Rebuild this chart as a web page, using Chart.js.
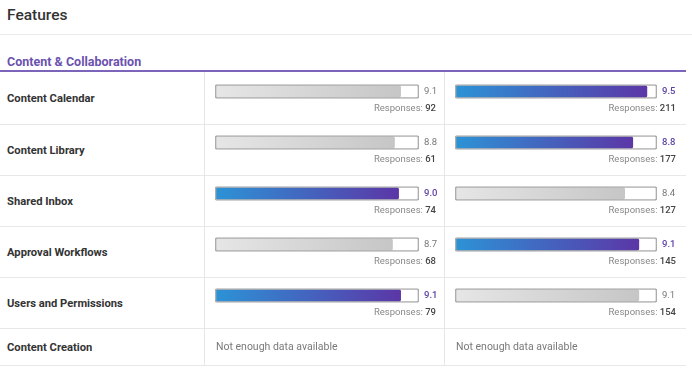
<!DOCTYPE html>
<html>
<head>
<meta charset="utf-8">
<script src="https://cdn.jsdelivr.net/npm/chart.js@4/dist/chart.umd.min.js"></script>
<style>
  body { margin: 0; background: #fff; font-family: Roboto, "Noto Sans", sans-serif; }
  #page { position: relative; width: 692px; height: 376px; overflow: hidden; }
  .abs { position: absolute; }
  #title { left: 7px; top: 6px; font-size: 15.5px; font-weight: 500; color: #333; }
  #section { left: 7px; top: 54px; font-size: 12.5px; font-weight: 700; color: #6b52ae; }
  .hline { left: 0; width: 686px; height: 1px; background: #e8e8e8; }
  .vline { width: 1px; top: 72px; height: 293px; background: #e6e6e6; }
  .rowlabel { left: 7px; font-size: 11.2px; font-weight: 700; color: #333; transform: translateY(-50%); white-space: nowrap; }
  canvas { position: absolute; }
</style>
</head>
<body>
<div id="page">
  <div id="title" class="abs">Features</div>
  <div class="abs hline" style="top:34px;width:692px;background:#ececec"></div>
  <div id="section" class="abs">Content &amp; Collaboration</div>
  <div class="abs" style="left:0;top:70px;width:686px;height:2px;background:#7b64b9"></div>
  <div class="abs vline" style="left:204px"></div>
  <div class="abs vline" style="left:444px"></div>
  <div id="rows"></div>
  <canvas id="colA" width="240" height="306" style="left:205px;top:66px"></canvas>
  <canvas id="colB" width="240" height="306" style="left:445px;top:66px"></canvas>
</div>
<script>
const categories = ['Content Calendar', 'Content Library', 'Shared Inbox', 'Approval Workflows', 'Users and Permissions', 'Content Creation'];
const scoresA = [9.1, 8.8, 9.0, 8.7, 9.1, null];
const responsesA = [92, 61, 74, 68, 79, null];
const scoresB = [9.5, 8.8, 8.4, 9.1, 9.1, null];
const responsesB = [211, 177, 127, 145, 154, null];
const winner = ['B', 'B', 'A', 'B', 'A', null];
const scoreMax = 10;

// table rows: labels + separators
const rowTops = [72, 124, 175, 226, 277, 328];
const rowBottoms = [124, 175, 226, 277, 328, 365];
const rowsEl = document.getElementById('rows');
categories.forEach((cat, i) => {
  const lbl = document.createElement('div');
  lbl.className = 'abs rowlabel';
  lbl.style.top = ((rowTops[i] + rowBottoms[i]) / 2) + 'px';
  lbl.textContent = cat;
  rowsEl.appendChild(lbl);
  const line = document.createElement('div');
  line.className = 'abs hline';
  line.style.top = rowBottoms[i] + 'px';
  rowsEl.appendChild(line);
});

function makeColumn(id, scores, responses, side, padRight) {
  const win = (i) => winner[i] === side;
  const fillColor = (c) => {
    const chart = c.chart;
    const x = chart.scales.x;
    const plain = win(c.dataIndex) ? '#4563bd' : '#d4d4d4';
    if (!x || c.raw == null) return plain;
    const x0 = x.getPixelForValue(0), x1 = x.getPixelForValue(c.raw);
    if (!isFinite(x0) || !isFinite(x1)) return plain;
    const g = chart.ctx.createLinearGradient(x0, 0, x1, 0);
    if (win(c.dataIndex)) {
      g.addColorStop(0, '#2c93d6');
      g.addColorStop(1, '#5b36a7');
    } else {
      g.addColorStop(0, '#e6e6e6');
      g.addColorStop(1, '#c6c6c6');
    }
    return g;
  };

  const cellText = {
    id: 'cellText',
    afterDatasetsDraw(chart) {
      const { ctx, chartArea, scales } = chart;
      ctx.save();
      ctx.textBaseline = 'middle';
      categories.forEach((cat, i) => {
        const y = scales.y.getPixelForValue(i);
        if (scores[i] == null) {
          ctx.font = '10.5px Roboto';
          ctx.fillStyle = '#7a7a7a';
          ctx.textAlign = 'left';
          ctx.fillText('Not enough data available', chartArea.left + 1, y + 1);
          return;
        }
        ctx.font = (win(i) ? '500 ' : '') + '9.5px Roboto';
        ctx.fillStyle = win(i) ? '#5b3fa6' : '#777';
        ctx.textAlign = 'left';
        ctx.fillText(scores[i].toFixed(1), scales.x.getPixelForValue(scoreMax) + 5, y);
        const rx = chart.width - 9;
        const n = String(responses[i]);
        ctx.textAlign = 'right';
        ctx.font = '500 9.5px Roboto';
        ctx.fillStyle = '#444';
        ctx.fillText(n, rx, y + 17);
        const w = ctx.measureText(n).width;
        ctx.font = '9.5px Roboto';
        ctx.fillStyle = '#888';
        ctx.fillText('Responses: ', rx - w, y + 17);
      });
      ctx.restore();
    }
  };

  new Chart(document.getElementById(id), {
    type: 'bar',
    data: {
      labels: categories,
      datasets: [
        {
          data: scores,
          backgroundColor: fillColor,
          borderRadius: 2,
          borderSkipped: false,
          barThickness: 12,
          grouped: false,
          order: 2
        },
        {
          data: scores.map(v => v == null ? null : scoreMax),
          backgroundColor: 'rgba(0,0,0,0)',
          borderColor: '#adadad',
          borderWidth: 1,
          borderRadius: 2,
          borderSkipped: false,
          barThickness: 14,
          grouped: false,
          order: 1
        }
      ]
    },
    options: {
      indexAxis: 'y',
      responsive: false,
      animation: false,
      layout: { padding: { left: 10, right: padRight, top: 0, bottom: 0 } },
      scales: {
        x: { display: false, min: 0, max: scoreMax },
        y: { display: false }
      },
      plugins: { legend: { display: false }, tooltip: { enabled: false } }
    },
    plugins: [cellText]
  });
}

makeColumn('colA', scoresA, responsesA, 'A', 26);
makeColumn('colB', scoresB, responsesB, 'B', 28);
</script>
</body>
</html>
